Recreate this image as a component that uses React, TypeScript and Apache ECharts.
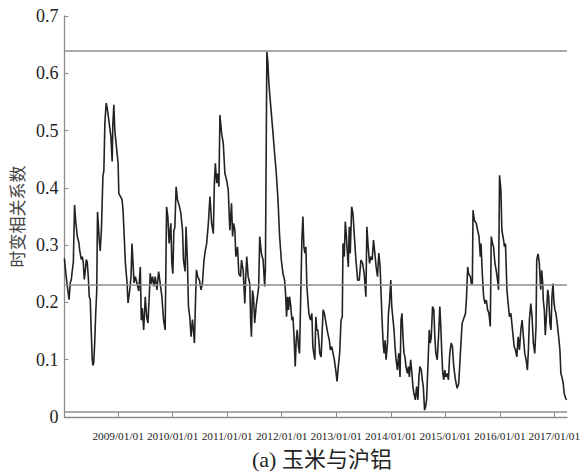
import React, { useEffect, useRef } from "react";
import * as echarts from "echarts";

// Observation dates as decimal years (e.g. 2012.5 = mid-2012)
const timeline = [
  2008.015, 2008.042, 2008.069, 2008.100, 2008.124, 2008.142, 2008.161, 2008.179, 2008.201, 2008.224,
  2008.252, 2008.279, 2008.297, 2008.325, 2008.343, 2008.361, 2008.380, 2008.398, 2008.416, 2008.434,
  2008.453, 2008.471, 2008.489, 2008.507, 2008.526, 2008.538, 2008.553, 2008.571, 2008.589, 2008.608,
  2008.622, 2008.635, 2008.653, 2008.672, 2008.695, 2008.721, 2008.739, 2008.757, 2008.781, 2008.799,
  2008.830, 2008.867, 2008.891, 2008.903, 2008.922, 2008.940, 2008.969, 2009.000, 2009.013, 2009.042,
  2009.073, 2009.091, 2009.115, 2009.133, 2009.164, 2009.182, 2009.214, 2009.237, 2009.255, 2009.274,
  2009.292, 2009.316, 2009.347, 2009.378, 2009.407, 2009.425, 2009.443, 2009.469, 2009.498, 2009.524,
  2009.547, 2009.571, 2009.589, 2009.608, 2009.633, 2009.657, 2009.681, 2009.712, 2009.743, 2009.772,
  2009.803, 2009.834, 2009.863, 2009.889, 2009.912, 2009.936, 2009.967, 2009.985, 2010.004, 2010.022,
  2010.040, 2010.064, 2010.089, 2010.119, 2010.150, 2010.181, 2010.199, 2010.228, 2010.246, 2010.272,
  2010.290, 2010.314, 2010.338, 2010.363, 2010.381, 2010.400, 2010.418, 2010.436, 2010.460, 2010.491,
  2010.520, 2010.546, 2010.575, 2010.600, 2010.624, 2010.655, 2010.684, 2010.715, 2010.746, 2010.765,
  2010.783, 2010.807, 2010.825, 2010.849, 2010.867, 2010.898, 2010.929, 2010.958, 2010.989, 2011.020,
  2011.049, 2011.080, 2011.099, 2011.117, 2011.141, 2011.159, 2011.190, 2011.214, 2011.245, 2011.263,
  2011.294, 2011.323, 2011.341, 2011.359, 2011.385, 2011.414, 2011.432, 2011.445, 2011.464, 2011.482,
  2011.505, 2011.531, 2011.555, 2011.578, 2011.597, 2011.628, 2011.659, 2011.688, 2011.701, 2011.728,
  2011.746, 2011.761, 2011.779, 2011.810, 2011.841, 2011.870, 2011.901, 2011.932, 2011.962, 2011.993,
  2012.024, 2012.053, 2012.071, 2012.089, 2012.108, 2012.126, 2012.144, 2012.162, 2012.188, 2012.206,
  2012.224, 2012.248, 2012.266, 2012.285, 2012.308, 2012.327, 2012.345, 2012.370, 2012.389, 2012.407,
  2012.425, 2012.443, 2012.462, 2012.480, 2012.498, 2012.527, 2012.553, 2012.571, 2012.589, 2012.608,
  2012.626, 2012.644, 2012.662, 2012.681, 2012.699, 2012.723, 2012.741, 2012.759, 2012.783, 2012.814,
  2012.845, 2012.874, 2012.892, 2012.918, 2012.942, 2012.965, 2012.991, 2013.015, 2013.038, 2013.064,
  2013.088, 2013.111, 2013.124, 2013.148, 2013.166, 2013.184, 2013.197, 2013.221, 2013.239, 2013.257,
  2013.283, 2013.307, 2013.330, 2013.361, 2013.392, 2013.422, 2013.453, 2013.484, 2013.513, 2013.544,
  2013.562, 2013.586, 2013.611, 2013.635, 2013.659, 2013.684, 2013.708, 2013.732, 2013.757, 2013.781,
  2013.805, 2013.818, 2013.841, 2013.860, 2013.878, 2013.896, 2013.914, 2013.940, 2013.958, 2013.976,
  2014.000, 2014.018, 2014.036, 2014.060, 2014.078, 2014.097, 2014.122, 2014.146, 2014.170, 2014.188,
  2014.206, 2014.224, 2014.243, 2014.261, 2014.279, 2014.305, 2014.323, 2014.341, 2014.365, 2014.383,
  2014.407, 2014.425, 2014.451, 2014.474, 2014.498, 2014.516, 2014.535, 2014.560, 2014.578, 2014.597,
  2014.620, 2014.639, 2014.657, 2014.681, 2014.706, 2014.724, 2014.743, 2014.766, 2014.790, 2014.808,
  2014.827, 2014.852, 2014.876, 2014.900, 2014.918, 2014.936, 2014.954, 2014.973, 2014.991, 2015.009,
  2015.035, 2015.058, 2015.082, 2015.108, 2015.131, 2015.155, 2015.186, 2015.217, 2015.246, 2015.277,
  2015.308, 2015.338, 2015.369, 2015.387, 2015.411, 2015.429, 2015.460, 2015.478, 2015.496, 2015.509,
  2015.533, 2015.569, 2015.593, 2015.619, 2015.642, 2015.655, 2015.679, 2015.703, 2015.728, 2015.752,
  2015.776, 2015.801, 2015.825, 2015.843, 2015.867, 2015.885, 2015.911, 2015.934, 2015.958, 2015.976,
  2015.995, 2016.020, 2016.038, 2016.068, 2016.086, 2016.104, 2016.130, 2016.153, 2016.177, 2016.203,
  2016.221, 2016.239, 2016.263, 2016.287, 2016.312, 2016.336, 2016.360, 2016.385, 2016.409, 2016.433,
  2016.458, 2016.482, 2016.506, 2016.524, 2016.542, 2016.568, 2016.591, 2016.615, 2016.641, 2016.664,
  2016.677, 2016.701, 2016.725, 2016.750, 2016.768, 2016.787, 2016.797, 2016.816, 2016.834, 2016.860,
  2016.878, 2016.896, 2016.920, 2016.938, 2016.956, 2016.975, 2016.993, 2017.011, 2017.029, 2017.053,
  2017.079, 2017.102, 2017.120, 2017.139, 2017.162, 2017.181, 2017.206, 2017.225,
];

// Time-varying correlation between corn and SHFE aluminium
const coefficient = [
  0.277, 0.25, 0.228, 0.205, 0.235, 0.24, 0.257, 0.27, 0.37, 0.34,
  0.315, 0.305, 0.29, 0.275, 0.28, 0.27, 0.24, 0.255, 0.275, 0.27,
  0.245, 0.21, 0.205, 0.15, 0.1, 0.09, 0.095, 0.13, 0.18, 0.22,
  0.358, 0.34, 0.31, 0.29, 0.33, 0.42, 0.43, 0.513, 0.548, 0.54,
  0.518, 0.49, 0.446, 0.51, 0.545, 0.5, 0.472, 0.443, 0.39, 0.385,
  0.379, 0.36, 0.309, 0.269, 0.234, 0.199, 0.222, 0.245, 0.303, 0.268,
  0.234, 0.245, 0.233, 0.22, 0.262, 0.169, 0.19, 0.152, 0.21, 0.175,
  0.164, 0.21, 0.251, 0.233, 0.245, 0.228, 0.245, 0.222, 0.254, 0.233,
  0.21, 0.169, 0.152, 0.367, 0.35, 0.303, 0.338, 0.268, 0.25, 0.326,
  0.33, 0.402, 0.379, 0.37, 0.356, 0.326, 0.274, 0.254, 0.332, 0.268,
  0.193, 0.175, 0.14, 0.17, 0.152, 0.129, 0.198, 0.257, 0.245, 0.239,
  0.222, 0.233, 0.274, 0.291, 0.303, 0.338, 0.385, 0.338, 0.32, 0.408,
  0.443, 0.408, 0.425, 0.402, 0.527, 0.495, 0.477, 0.425, 0.414, 0.396,
  0.326, 0.373, 0.315, 0.338, 0.326, 0.28, 0.297, 0.25, 0.245, 0.274,
  0.256, 0.198, 0.245, 0.28, 0.245, 0.233, 0.164, 0.14, 0.221, 0.21,
  0.164, 0.193, 0.21, 0.227, 0.315, 0.285, 0.274, 0.228, 0.26, 0.637,
  0.62, 0.588, 0.565, 0.53, 0.495, 0.46, 0.425, 0.379, 0.315, 0.274,
  0.25, 0.239, 0.216, 0.175, 0.21, 0.187, 0.21, 0.198, 0.169, 0.175,
  0.146, 0.088, 0.134, 0.152, 0.123, 0.111, 0.193, 0.309, 0.35, 0.297,
  0.286, 0.297, 0.227, 0.204, 0.181, 0.169, 0.181, 0.123, 0.111, 0.1,
  0.175, 0.152, 0.152, 0.134, 0.111, 0.105, 0.146, 0.187, 0.181, 0.163,
  0.146, 0.134, 0.117, 0.123, 0.111, 0.1, 0.082, 0.062, 0.088, 0.113,
  0.169, 0.175, 0.303, 0.28, 0.341, 0.32, 0.297, 0.262, 0.332, 0.286,
  0.367, 0.355, 0.32, 0.274, 0.239, 0.239, 0.274, 0.268, 0.25, 0.21,
  0.332, 0.297, 0.268, 0.28, 0.274, 0.309, 0.286, 0.262, 0.245, 0.286,
  0.262, 0.227, 0.169, 0.129, 0.111, 0.134, 0.1, 0.129, 0.181, 0.198,
  0.239, 0.193, 0.175, 0.152, 0.123, 0.1, 0.082, 0.111, 0.07, 0.169,
  0.181, 0.14, 0.111, 0.105, 0.088, 0.076, 0.088, 0.07, 0.1, 0.082,
  0.053, 0.041, 0.03, 0.053, 0.03, 0.07, 0.088, 0.082, 0.065, 0.053,
  0.012, 0.018, 0.03, 0.088, 0.152, 0.129, 0.14, 0.193, 0.187, 0.14,
  0.111, 0.1, 0.14, 0.193, 0.158, 0.111, 0.076, 0.065, 0.082, 0.07,
  0.076, 0.065, 0.111, 0.129, 0.123, 0.088, 0.065, 0.05, 0.058, 0.111,
  0.163, 0.172, 0.18, 0.204, 0.262, 0.25, 0.245, 0.233, 0.233, 0.361,
  0.343, 0.338, 0.326, 0.315, 0.28, 0.303, 0.25, 0.21, 0.198, 0.204,
  0.187, 0.181, 0.158, 0.315, 0.303, 0.297, 0.268, 0.256, 0.239, 0.222,
  0.422, 0.396, 0.326, 0.309, 0.297, 0.303, 0.222, 0.198, 0.175, 0.181,
  0.163, 0.146, 0.123, 0.117, 0.105, 0.14, 0.117, 0.152, 0.169, 0.14,
  0.111, 0.1, 0.082, 0.117, 0.169, 0.198, 0.175, 0.129, 0.111, 0.158,
  0.274, 0.285, 0.268, 0.222, 0.256, 0.233, 0.204, 0.187, 0.143, 0.187,
  0.222, 0.21, 0.163, 0.152, 0.21, 0.233, 0.2, 0.187, 0.181, 0.163,
  0.14, 0.117, 0.076, 0.07, 0.059, 0.041, 0.033, 0.03,
];

// Horizontal reference levels: maximum, mean, minimum
const referenceLevels = [0.637, 0.232, 0.012];

// Year boundaries marked on the time axis
const yearTicks = [2009, 2010, 2011, 2012, 2013, 2014, 2015, 2016, 2017];

const timeStart = 2008.015;
const timeEnd = 2017.232;

const serif = "Liberation Serif";
const cjk = "Noto Sans CJK SC";

export default function App() {
  const ref = useRef<HTMLDivElement>(null);

  useEffect(() => {
    if (!ref.current) return;
    const chart = echarts.init(ref.current, undefined, { renderer: "svg" });
    const n = Math.min(timeline.length, coefficient.length);
    const points = [];
    for (let i = 0; i < n; i++) points.push([timeline[i], coefficient[i]]);

    chart.setOption({
      animation: false,
      backgroundColor: "#ffffff",
      title: {
        text: "(a) 玉米与沪铝",
        left: 252,
        top: 448,
        padding: 0,
        textStyle: {
          fontFamily: "Liberation Serif, Noto Sans CJK SC",
          fontSize: 22,
          fontWeight: "normal",
          color: "#222",
        },
      },
      grid: { left: 62, right: 17, top: 16, bottom: 55, containLabel: false },
      xAxis: {
        type: "value",
        min: timeStart,
        max: timeEnd,
        splitLine: { show: false },
        axisLine: { show: true, lineStyle: { color: "#8a8a8a", width: 1.3 } },
        axisTick: {
          show: true,
          inside: true,
          length: 5,
          customValues: yearTicks,
          lineStyle: { color: "#8a8a8a", width: 1 },
        },
        axisLabel: {
          customValues: yearTicks,
          formatter: (v: number) => `${Math.round(v)}/01/01`,
          fontFamily: serif,
          fontSize: 11.3,
          color: "#222",
          margin: 13,
        },
      },
      yAxis: {
        type: "value",
        min: 0,
        max: 0.7,
        interval: 0.1,
        name: "时变相关系数",
        nameLocation: "middle",
        nameRotate: 90,
        nameGap: 37,
        nameTextStyle: { fontFamily: cjk, fontSize: 17, color: "#444" },
        splitLine: { show: false },
        axisLine: { show: true, lineStyle: { color: "#8a8a8a", width: 1.3 } },
        axisTick: { show: true, inside: true, length: 4, lineStyle: { color: "#8a8a8a" } },
        axisLabel: { fontFamily: serif, fontSize: 18, color: "#222", margin: 6 },
      },
      series: [
        {
          type: "line",
          data: points,
          symbol: "none",
          showSymbol: false,
          lineStyle: { color: "#222", width: 1.6 },
          emphasis: { disabled: true },
          markLine: {
            silent: true,
            symbol: "none",
            label: { show: false },
            lineStyle: { color: "#8c8c8c", width: 1.5, type: "solid" },
            data: referenceLevels.map((v) => ({ yAxis: v })),
          },
        },
      ],
    });

    return () => chart.dispose();
  }, []);

  return (
    <div
      ref={ref}
      style={{ position: "absolute", left: 0, top: 0, width: 584, height: 472, background: "#fff" }}
    />
  );
}
